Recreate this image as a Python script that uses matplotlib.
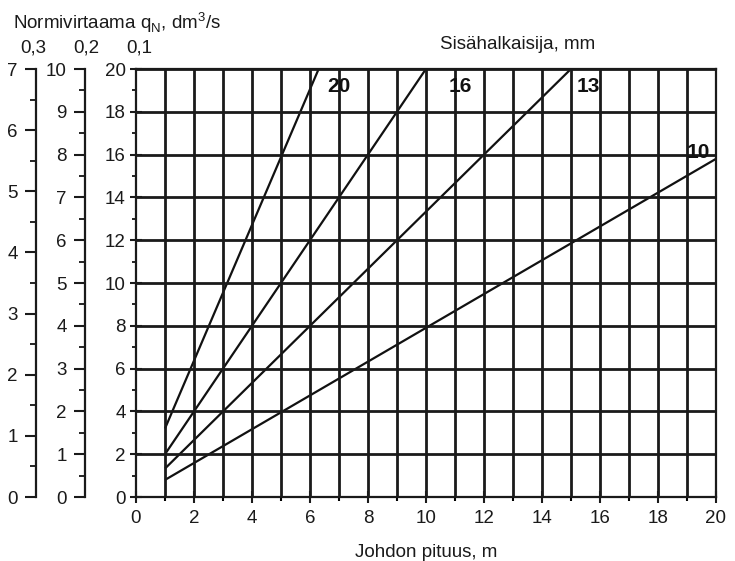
import numpy as np
import matplotlib.pyplot as plt

plt.rcParams['font.family'] = ['Liberation Sans', 'DejaVu Sans']

# line data (inner diameter, mm)
diameters = ['20', '16', '13', '10']
x_start = [1, 1, 1, 1]
y_start = [3.2, 2.0, 1.33, 0.8]
x_end = [6.3, 10, 15, 20]
y_end = [20, 20, 20, 15.8]
label_x = [7.0, 11.2, 15.6, 19.4]
label_y = [19.2, 19.2, 19.2, 16.1]

side_max = [10, 7]
flow_labels = ['0,3', '0,2', '0,1']

fig = plt.figure(figsize=(7.35, 5.61), dpi=100)
ax = fig.add_axes([0.185, 0.114, 0.789, 0.763])

for i in range(len(diameters)):
    ax.plot([x_start[i], x_end[i]], [y_start[i], y_end[i]], color='#111111', lw=1.6,
            solid_capstyle='butt')
    ax.text(label_x[i], label_y[i], diameters[i], fontsize=15, fontweight='bold',
            ha='center', va='center', color='#111111')

ax.set_xlim(0, 20)
ax.set_ylim(0, 20)
ax.set_xticks(np.arange(0, 21, 2))
ax.set_xticks(np.arange(1, 21, 2), minor=True)
ax.set_yticks(np.arange(0, 21, 2))
ax.set_yticks(np.arange(1, 21, 2), minor=True)
for xv in range(1, 21):
    ax.axvline(xv, color='#1a1a1a', lw=2)
for yv in range(2, 21, 2):
    ax.axhline(yv, color='#1a1a1a', lw=2)
ax.tick_params(axis='both', which='major', direction='inout', length=9, width=1.5,
               labelsize=13.5, pad=3, colors='#1a1a1a')
ax.tick_params(axis='x', which='major', pad=5)
ax.tick_params(axis='x', which='minor', direction='out', length=3, width=1.5)
ax.tick_params(axis='y', which='minor', direction='out', length=3, width=1.2)
for s in ax.spines.values():
    s.set_linewidth(1.6)
    s.set_color('#1a1a1a')
ax.set_xlabel('Johdon pituus, m', fontsize=13.5, labelpad=12, color='#1a1a1a')

# extra flow scales on the left
side_x = [0.1156, 0.049]
for k in range(2):
    sa = fig.add_axes([side_x[k], 0.114, 0.0001, 0.763])
    sa.set_ylim(0, side_max[k])
    sa.set_yticks(np.arange(0, side_max[k] + 1, 1))
    sa.set_yticks(np.arange(0.5, side_max[k], 1), minor=True)
    sa.set_xticks([])
    for nm in ['top', 'right', 'bottom']:
        sa.spines[nm].set_visible(False)
    sa.spines['left'].set_linewidth(1.6)
    sa.spines['left'].set_color('#1a1a1a')
    sa.patch.set_visible(False)
    sa.tick_params(axis='y', which='major', direction='out', length=8, width=1.5,
                   labelsize=13.5, pad=5, colors='#1a1a1a')
    sa.tick_params(axis='y', which='minor', direction='out', length=4, width=1.2)

flow_x = [0.045, 0.118, 0.19]
for j in range(3):
    fig.text(flow_x[j], 0.915, flow_labels[j], fontsize=13.5, ha='center', va='center',
             color='#1a1a1a')
fig.text(0.018, 0.96, r'Normivirtaama q$_{\mathregular{N}}$, dm$^{\mathregular{3}}$/s',
         fontsize=13.5, ha='left', va='center', color='#1a1a1a')
fig.text(0.598, 0.92, 'Sisähalkaisija, mm', fontsize=13.5, ha='left', va='center',
         color='#1a1a1a')

fig.savefig('out.png', dpi=100)
